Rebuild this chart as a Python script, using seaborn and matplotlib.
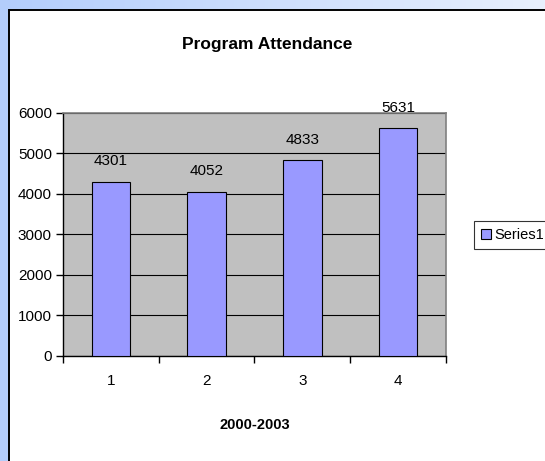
import matplotlib
matplotlib.use("Agg")
import matplotlib.pyplot as plt
import matplotlib.patches as patches
import matplotlib.ticker as ticker
from matplotlib.colors import LinearSegmentedColormap
import numpy as np
import pandas as pd
import seaborn as sns

# chart data
years = ["1", "2", "3", "4"]
attendance = [4301, 4052, 4833, 5631]
series_name = "Series1"

sns.set_theme(style="white")
plt.rcParams["font.family"] = ["Liberation Sans", "DejaVu Sans"]
plt.rcParams["text.color"] = "black"
plt.rcParams["axes.labelcolor"] = "black"
plt.rcParams["xtick.color"] = "black"
plt.rcParams["ytick.color"] = "black"

df = pd.DataFrame({"Year": years, "Attendance": attendance})

fig = plt.figure(figsize=(5.45, 4.61), dpi=100)

# light blue gradient background behind the chart panel
bg = fig.add_axes([0, 0, 1, 1], zorder=-20)
bg_cmap = LinearSegmentedColormap.from_list("bg", ["#b3cdfb", "#e8f0fd"])
bg.imshow(np.linspace(0, 1, 256)[None, :], aspect="auto", cmap=bg_cmap,
          extent=[0, 1, 0, 1])
bg.set_axis_off()

# white chart panel with black frame
panel = patches.Rectangle((9 / 545, -0.05), 1.0, 1 - 10 / 461 + 0.05,
                          transform=fig.transFigure, facecolor="white",
                          edgecolor="black", linewidth=1.4, zorder=-10)
fig.patches.append(panel)

ax = fig.add_axes([63 / 545, 1 - 355.5 / 461, (446 - 63) / 545, (355.5 - 113) / 461])
ax.set_facecolor("#c0c0c0")

sns.barplot(data=df, x="Year", y="Attendance", color="#9999ff", width=0.4,
            saturation=1, edgecolor="black", linewidth=0.8, ax=ax,
            label=series_name, zorder=3)

ax.set_ylim(0, 6000)
ax.set_xlim(-0.5, 3.5)
ax.yaxis.set_major_locator(ticker.MultipleLocator(1000))
ax.grid(axis="y", color="black", linewidth=0.8, zorder=1)
ax.set_axisbelow(True)

for s in ["top", "right"]:
    ax.spines[s].set_color("#808080")
    ax.spines[s].set_linewidth(1.2)
for s in ["left", "bottom"]:
    ax.spines[s].set_color("black")
    ax.spines[s].set_linewidth(1.0)

ax.tick_params(axis="y", direction="out", length=5, width=1, color="black",
               labelsize=11, pad=3, left=True)
ax.tick_params(axis="x", which="major", length=0, labelsize=11, pad=13)
ax.xaxis.set_minor_locator(ticker.FixedLocator([-0.5, 0.5, 1.5, 2.5, 3.5]))
ax.tick_params(axis="x", which="minor", direction="out", length=5, width=1,
               color="black", bottom=True)

for i, v in enumerate(attendance):
    ax.text(i, v + 330, str(v), ha="center", va="bottom", fontsize=11,
            color="black", zorder=4)

ax.set_xlabel("2000-2003", fontsize=10.5, fontweight="bold", labelpad=22)
ax.set_ylabel("")
fig.text(267 / 545, 1 - 45 / 461, "Program Attendance", ha="center", va="center",
         fontsize=12.5, fontweight="bold")

leg = ax.legend(loc="center left", bbox_to_anchor=(474 / 545, 1 - 235 / 461),
                bbox_transform=fig.transFigure, frameon=True, fancybox=False,
                fontsize=10.5, handlelength=0.7, handleheight=0.7,
                handletextpad=0.25, borderpad=0.45, borderaxespad=0)
leg.get_frame().set_edgecolor("black")
leg.get_frame().set_linewidth(0.8)

fig.savefig("out.png", dpi=100)
